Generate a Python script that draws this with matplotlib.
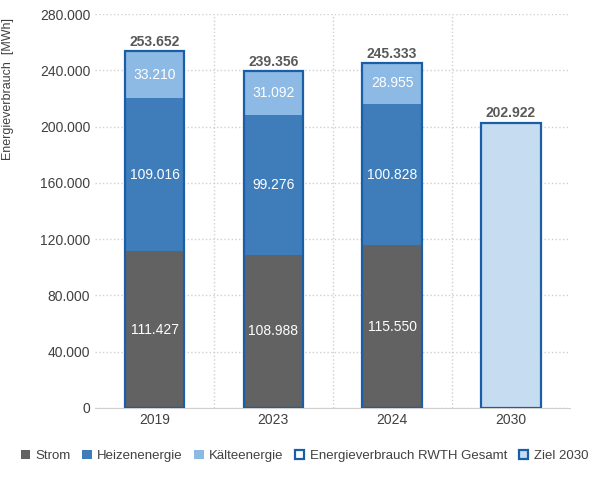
import matplotlib
matplotlib.use("Agg")
import matplotlib.pyplot as plt
from matplotlib.patches import Patch
import numpy as np

plt.rcParams['font.family'] = ['Liberation Sans', 'DejaVu Sans']

years = ["2019", "2023", "2024", "2030"]
strom = [111427, 108988, 115550, 0]
heiz = [109016, 99276, 100828, 0]
kaelte = [33210, 31092, 28955, 0]
gesamt = [253652, 239356, 245333, 0]
ziel = [0, 0, 0, 202922]

def fmt(v):
    return f"{v:,.0f}".replace(",", ".")

c_strom, c_heiz, c_kaelte = "#626262", "#3e7dba", "#8db9e5"
c_edge, c_ziel = "#1a5ea8", "#c6dcf0"

fig = plt.figure(figsize=(5.91, 4.88), dpi=100)
ax = fig.add_axes([0.161, 0.164, 0.804, 0.807])
x = np.arange(len(years))
w = 0.5
s = np.array(strom); h = np.array(heiz); k = np.array(kaelte)
ax.bar(x, s, w, color=c_strom, zorder=2)
ax.bar(x, h, w, bottom=s, color=c_heiz, zorder=2)
ax.bar(x, k, w, bottom=s + h, color=c_kaelte, zorder=2)
ax.bar(x, gesamt, w, fill=False, edgecolor=c_edge, linewidth=1.6, zorder=3)
ax.bar(x, ziel, w, color=c_ziel, edgecolor=c_edge, linewidth=1.6, zorder=3)

for i in range(3):
    ax.text(x[i], s[i] / 2, fmt(s[i]), ha="center", va="center", color="white", fontsize=10)
    ax.text(x[i], s[i] + h[i] / 2, fmt(h[i]), ha="center", va="center", color="white", fontsize=10)
    ax.text(x[i], s[i] + h[i] + k[i] / 2, fmt(k[i]), ha="center", va="center", color="white", fontsize=10)
    ax.text(x[i], gesamt[i] + 1500, fmt(gesamt[i]), ha="center", va="bottom", color="#595959", fontsize=10, fontweight="bold")
ax.text(x[3], ziel[3] + 1500, fmt(ziel[3]), ha="center", va="bottom", color="#595959", fontsize=10, fontweight="bold")

ax.set_xlim(-0.5, 3.5)
ax.set_ylim(0, 280000)
yt = np.arange(0, 280001, 40000)
ax.set_yticks(yt)
ax.set_yticklabels([fmt(v) for v in yt], fontsize=10, color="#404040")
ax.set_xticks(x)
ax.set_xticklabels(years, fontsize=10, color="#404040")
ax.set_xticks([0.5, 1.5, 2.5], minor=True)
ax.grid(axis="y", which="major", color="#d0d0d0", linestyle=":", linewidth=1, zorder=0)
ax.grid(axis="x", which="minor", color="#d0d0d0", linestyle=":", linewidth=1, zorder=0)
ax.tick_params(which="both", length=0)
for sp in ["top", "right", "left"]:
    ax.spines[sp].set_visible(False)
ax.spines["bottom"].set_color("#d0d0d0")
ax.set_ylabel("Energieverbrauch  [MWh]", fontsize=9, color="#404040")
ax.yaxis.set_label_coords(-0.17, 0.81)

handles = [Patch(facecolor=c_strom), Patch(facecolor=c_heiz), Patch(facecolor=c_kaelte),
           Patch(facecolor="white", edgecolor=c_edge, linewidth=1.6),
           Patch(facecolor=c_ziel, edgecolor=c_edge, linewidth=1.6)]
labels = ["Strom", "Heizenenergie", "Kälteenergie", "Energieverbrauch RWTH Gesamt", "Ziel 2030"]
fig.legend(handles, labels, loc="center", bbox_to_anchor=(0.515, 0.065), ncol=5, frameon=False,
           fontsize=9.5, handlelength=0.7, handleheight=0.7, columnspacing=0.9, handletextpad=0.4,
           labelcolor="#404040")
fig.savefig("out.png", dpi=100)
